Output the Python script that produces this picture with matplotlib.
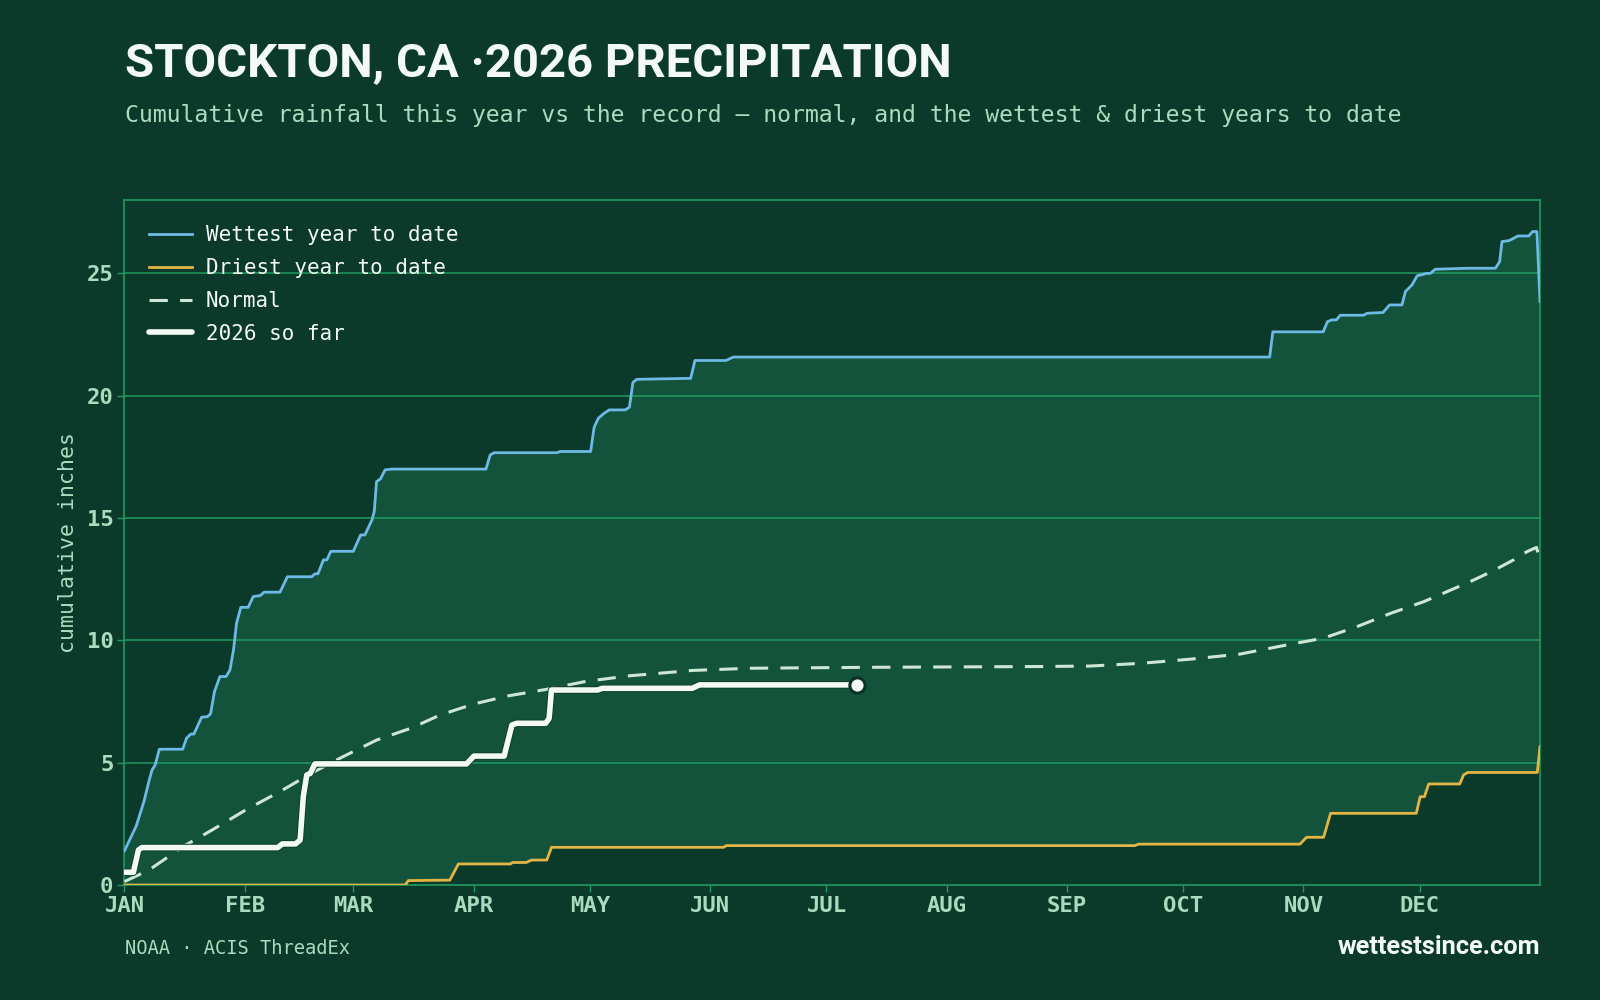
import matplotlib
matplotlib.use("Agg")
import matplotlib.pyplot as plt
import matplotlib.patheffects as pe
import numpy as np

# ---------------- data (day of year, cumulative inches) ----------------
wet_days = [0, 3, 5, 6.4, 7.1, 7.9, 9.0, 15.0, 16.0, 17.1, 17.9, 19.9, 21.4, 22.2, 23.2, 24.6,
            26.2, 27.2, 28.1, 28.9, 30.0, 31.9, 33.2, 35.0, 36.0, 40.1, 42.0, 48.3, 49.1, 49.9,
            51.3, 52.2, 53.2, 59.0, 60.9, 62.0, 63.8, 64.4, 65.0, 66.0, 67.2, 68.9, 93.2, 94.3,
            95.3, 111.5, 112.3, 120.2, 121.1, 122.2, 123.5, 125.0, 129.1, 130.2, 131.1, 132.1,
            146.0, 147.1, 155.1, 157.0, 295.3, 296.1, 309.1, 310.2, 311.4, 312.5, 313.5, 319.5,
            320.4, 324.5, 326.2, 329.4, 330.3, 332.0, 333.3, 335.8, 336.7, 338.0, 346.2, 353.5,
            354.6, 355.2, 357.0, 357.8, 359.3, 362.1, 363.1, 364.2, 365.0]
wet_vals = [1.4, 2.4, 3.4, 4.3, 4.7, 4.9, 5.55, 5.55, 6.0, 6.17, 6.17, 6.86, 6.88, 7.0, 7.9, 8.52,
            8.52, 8.79, 9.6, 10.7, 11.35, 11.35, 11.79, 11.83, 11.97, 11.97, 12.6, 12.6, 12.72, 12.72,
            13.29, 13.29, 13.64, 13.64, 14.31, 14.31, 14.92, 15.26, 16.49, 16.6, 16.97, 17.0, 17.0, 17.58,
            17.67, 17.67, 17.72, 17.72, 18.71, 19.08, 19.26, 19.42, 19.42, 19.53, 20.54, 20.67,
            20.71, 21.44, 21.44, 21.58, 21.58, 22.61, 22.61, 23.03, 23.1, 23.1, 23.29, 23.29,
            23.37, 23.4, 23.71, 23.71, 24.26, 24.53, 24.9, 25.0, 25.0, 25.17, 25.21, 25.21,
            25.48, 26.3, 26.34, 26.4, 26.53, 26.53, 26.71, 26.71, 23.85]

dry_days = [0, 72.4, 73.2, 83.9, 86.1, 99.5, 100.1, 103.6, 104.9, 108.9, 110.1, 154.5, 155.2,
            260.5, 261.5, 303.1, 304.8, 309.2, 311.0, 333.1, 334.1, 335.2, 336.3, 344.3, 345.3,
            346.4, 364.3, 365.0]
dry_vals = [0.0, 0.0, 0.18, 0.2, 0.86, 0.86, 0.92, 0.92, 1.02, 1.02, 1.54, 1.54, 1.61,
            1.61, 1.67, 1.67, 1.95, 1.95, 2.93, 2.93, 3.61, 3.61, 4.13, 4.13, 4.5,
            4.6, 4.6, 5.65]

norm_days = [0, 6.3, 15.1, 22.6, 31.3, 40.1, 48.9, 56.4, 65.1, 73.9, 81.4, 90.1, 98.9, 108.9,
             118.9, 130.1, 146.4, 161.4, 193.9, 236.1, 249.0, 262.0, 274.8, 287.7, 300.6, 309.2,
             317.8, 326.4, 335.0, 341.0, 347.0, 353.0, 358.2, 361.7, 364.1, 365.0]
norm_vals = [0.14, 0.61, 1.57, 2.25, 3.07, 3.82, 4.63, 5.25, 5.93, 6.41, 6.95, 7.4, 7.73, 8.0,
             8.32, 8.55, 8.77, 8.86, 8.9, 8.93, 8.95, 9.06, 9.23, 9.44, 9.84, 10.09,
             10.56, 11.1, 11.58, 11.99, 12.4, 12.85, 13.29, 13.63, 13.8, 13.22]

cur_days = [0, 2.3, 3.6, 4.5, 39.5, 40.7, 44.1, 45.3, 46.1, 47.0, 47.9, 49.1, 88.2, 90.1, 97.9,
            99.9, 101.1, 108.6, 109.5, 110.1, 122.0, 123.2, 146.4, 148.3, 188.9]
cur_vals = [0.52, 0.52, 1.43, 1.53, 1.53, 1.68, 1.68, 1.84, 3.6, 4.5, 4.56, 4.95, 4.95, 5.27, 5.27,
            6.54, 6.61, 6.61, 6.81, 7.97, 7.97, 8.04, 8.04, 8.18, 8.18]

month_starts = [0, 31, 59, 90, 120, 151, 181, 212, 243, 273, 304, 334]
month_labels = ["JAN", "FEB", "MAR", "APR", "MAY", "JUN", "JUL", "AUG", "SEP", "OCT", "NOV", "DEC"]
y_ticks = [0, 5, 10, 15, 20, 25]

# ---------------- style ----------------
BG = "#0b3a2a"
FILL = "#13523b"
GRID = "#1f9a62"
TXT = "#a9dcbf"
BLUE = "#6fb9e6"
GOLD = "#e3b544"
NORM = "#cde6d6"
WHITE = "#f3faf5"
MONO = "DejaVu Sans Mono"
SANS = ["Roboto", "DejaVu Sans"]

fig = plt.figure(figsize=(16, 10), dpi=100, facecolor=BG)
ax = fig.add_axes([0.0778, 0.115, 0.8847, 0.685], facecolor=BG)

ax.fill(np.r_[wet_days, dry_days[::-1]], np.r_[wet_vals, dry_vals[::-1]],
        color=FILL, lw=0, zorder=1)

for y in y_ticks[1:]:
    ax.axhline(y, color=GRID, lw=1.1, zorder=2)

ax.plot(wet_days, wet_vals, color=BLUE, lw=2.0, zorder=4, label="Wettest year to date",
        solid_joinstyle="round")
ax.plot(dry_days, dry_vals, color=GOLD, lw=2.0, zorder=4, label="Driest year to date",
        solid_joinstyle="round")
ax.plot(norm_days, norm_vals, color=NORM, lw=2.2, ls=(0, (6, 4)), zorder=4, label="Normal")
ax.plot(cur_days, cur_vals, color=WHITE, lw=4.0, zorder=5, label="2026 so far",
        solid_joinstyle="round", solid_capstyle="round",
        path_effects=[pe.Stroke(linewidth=5.4, foreground="#0f3f2d"), pe.Normal()])
ax.plot([cur_days[-1]], [cur_vals[-1]], "o", ms=11, mfc=WHITE, mec="#0b3325", mew=2.2, zorder=6)

ax.set_xlim(0, 365)
ax.set_ylim(0, 28)
ax.set_xticks(month_starts)
ax.set_xticklabels(month_labels, fontfamily=MONO, fontweight="bold", fontsize=16, color=TXT)
ax.set_yticks(y_ticks)
ax.set_yticklabels([str(v) for v in y_ticks], fontfamily=MONO, fontweight="bold", fontsize=16, color=TXT)
ax.tick_params(axis="both", colors=GRID, length=5, width=1, labelcolor=TXT, pad=3)
for s in ax.spines.values():
    s.set_color(GRID)
    s.set_linewidth(1.2)
ax.set_ylabel("cumulative inches", fontfamily=MONO, fontsize=15.5, color=TXT, labelpad=6)

leg = ax.legend(loc="upper left", frameon=False, prop={"family": MONO, "size": 15},
                labelcolor=WHITE, handlelength=2.05, handletextpad=0.65, labelspacing=0.62,
                borderaxespad=0.8)

fig.text(0.078, 0.924, "STOCKTON, CA \u00b72026 PRECIPITATION", fontfamily=SANS,
         fontweight="bold", fontsize=34, color=WHITE, ha="left", va="baseline")
fig.text(0.078, 0.878, "Cumulative rainfall this year vs the record \u2014 normal, and the wettest & driest years to date",
         fontfamily=MONO, fontsize=16.65, color=TXT, ha="left", va="baseline")
fig.text(0.078, 0.046, "NOAA \u00b7 ACIS ThreadEx", fontfamily=MONO, fontsize=13.5,
         color=TXT, ha="left", va="baseline")
fig.text(0.9625, 0.046, "wettestsince.com", fontfamily=SANS, fontweight="bold",
         fontsize=18.3, color=WHITE, ha="right", va="baseline")

fig.savefig("out.png", dpi=100, facecolor=BG)
